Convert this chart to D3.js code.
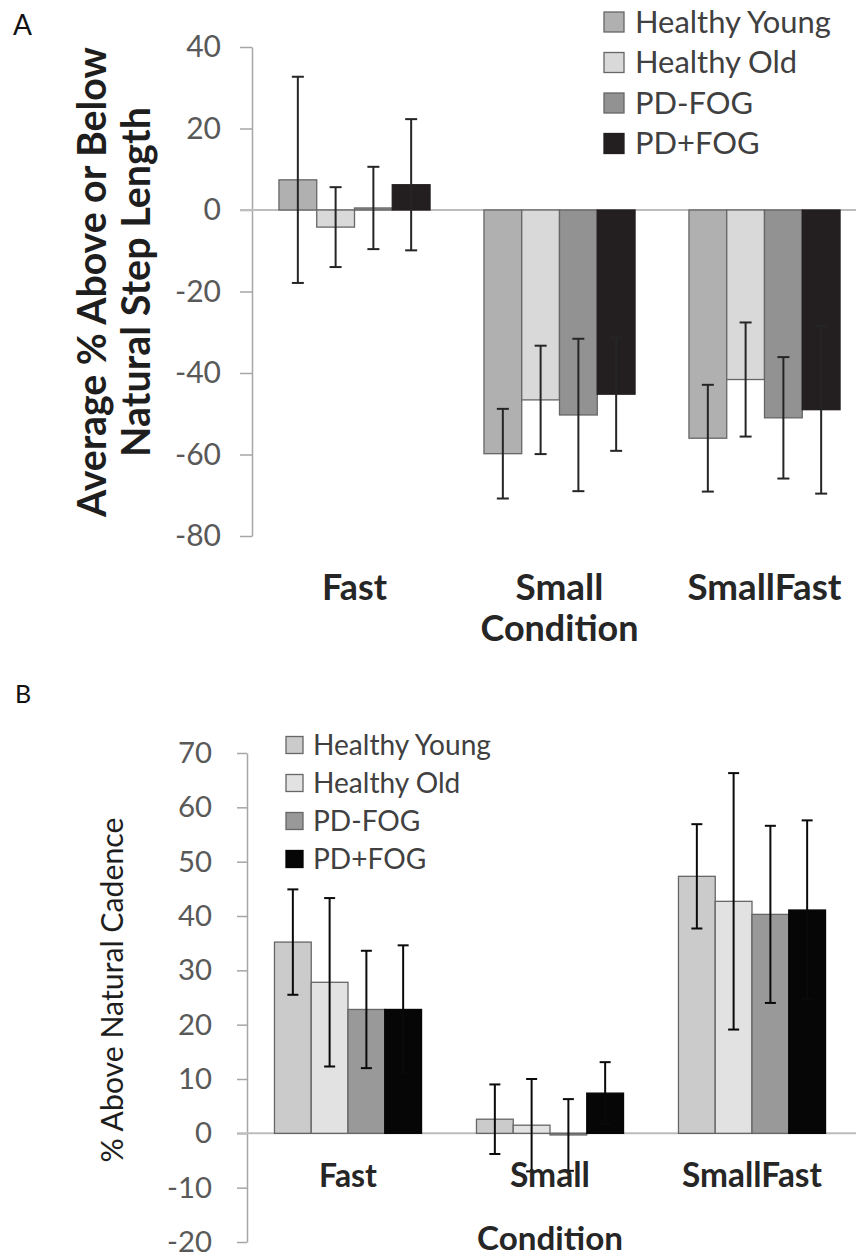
<!DOCTYPE html>
<html>
<head>
<meta charset="utf-8">
<script src="https://cdn.jsdelivr.net/npm/d3@7"></script>
<style>
body { margin: 0; background: #fff; }
svg { display: block; font-family: Lato, "Open Sans", sans-serif; }
</style>
</head>
<body>
<div id="figure"></div>
<script>
const groups = ["Healthy Young", "Healthy Old", "PD-FOG", "PD+FOG"]
const conditions = ["Fast", "Small", "SmallFast"]

// panel A - step length: mean / sd, one row per condition, one column per group
const stepMean = [
    [7.4, -4.2, 0.5, 6.2],
    [-59.8, -46.6, -50.3, -45.2],
    [-56.0, -41.6, -51.0, -49.0]
]
const stepSd = [
    [25.3, 9.8, 10.1, 16.1],
    [11.0, 13.3, 18.7, 13.9],
    [13.1, 14.0, 14.9, 20.6]
]
const stepTicks = [40, 20, 0, -20, -40, -60, -80]

// panel B - cadence
const cadMean = [
    [35.2, 27.8, 22.8, 22.8],
    [2.6, 1.5, -0.3, 7.4],
    [47.3, 42.7, 40.3, 41.1]
]
const cadSd = [
    [9.7, 15.5, 10.8, 11.8],
    [6.4, 8.5, 6.6, 5.7],
    [9.6, 23.6, 16.3, 16.5]
]
const cadTicks = [70, 60, 50, 40, 30, 20, 10, 0, -10, -20]

const colorsA = ["#b0b0b0", "#d9d9d9", "#929292", "#231f20"]
const colorsB = ["#cbcbcb", "#e2e2e2", "#999999", "#060606"]

const svg = d3.select("#figure")
    .append("svg")
    .attr("width", 856)
    .attr("height", 1258)

svg.append("rect").attr("width", 856).attr("height", 1258).attr("fill", "#fff")

// shrink / grow a text so that it covers a given length
const fit = (sel, len) => {
    const w = sel.node().getComputedTextLength()
    const fs = parseFloat(sel.attr("font-size"))
    sel.attr("font-size", fs * len / w)
    return fs * len / w
}

const drawPanel = (p) => {
    const g = svg.append("g")

    const y = d3.scaleLinear().domain(p.yDomain).range(p.yRange)
    const x = d3.scaleBand().domain(conditions).range(p.xRange)
        .paddingInner(p.pad).paddingOuter(p.pad / 2)
    const xs = d3.scaleBand().domain(groups).range([0, x.bandwidth()])

    // axis
    const axis = g.append("g")
        .attr("transform", `translate(${p.xRange[0]},0)`)
        .call(d3.axisLeft(y).tickValues(p.ticks).tickSize(p.tickLen)
            .tickSizeOuter(0).tickPadding(p.tickPad).tickFormat((d) => String(d)))
    axis.select(".domain").attr("stroke", "#a6a6a6").attr("stroke-width", 1.5)
    axis.selectAll(".tick line").attr("stroke", "#a6a6a6").attr("stroke-width", 1.5)
    axis.selectAll(".tick text")
        .attr("fill", "#595959")
        .attr("font-family", "Lato, 'Open Sans', sans-serif")
        .attr("font-size", 20)
    // size tick labels from the widest one
    const widest = axis.selectAll(".tick text").filter((d) => d == p.yDomain[0])
    const fs = fit(widest, p.tickW)
    axis.selectAll(".tick text").attr("font-size", fs)

    // zero line
    g.append("line")
        .attr("x1", p.xRange[0] - p.tickLen)
        .attr("x2", 856)
        .attr("y1", y(0))
        .attr("y2", y(0))
        .attr("stroke", "#bdbdbd")
        .attr("stroke-width", 2)

    const cells = []
    conditions.forEach((c, i) => groups.forEach((gr, j) => {
        cells.push({ c: c, g: gr, j: j, m: p.mean[i][j], sd: p.sd[i][j] })
    }))

    g.selectAll(".bar")
        .data(cells)
        .enter()
        .append("rect")
        .attr("class", "bar")
        .attr("x", (d) => x(d.c) + xs(d.g))
        .attr("width", xs.bandwidth())
        .attr("y", (d) => y(Math.max(0, d.m)))
        .attr("height", (d) => Math.abs(y(d.m) - y(0)))
        .attr("fill", (d) => p.colors[d.j])
        .attr("stroke", (d) => d.j == 3 ? p.colors[3] : "#666")
        .attr("stroke-width", 1.3)

    const err = g.selectAll(".err")
        .data(cells)
        .enter()
        .append("g")
        .attr("class", "err")
        .attr("transform", (d) => `translate(${x(d.c) + xs(d.g) + xs.bandwidth() / 2},0)`)
        .attr("stroke", p.errColor)
        .attr("stroke-width", 2)
    err.append("line")
        .attr("y1", (d) => y(d.m + d.sd))
        .attr("y2", (d) => y(d.m - d.sd))
    err.append("line")
        .attr("x1", -p.cap).attr("x2", p.cap)
        .attr("y1", (d) => y(d.m + d.sd)).attr("y2", (d) => y(d.m + d.sd))
    err.append("line")
        .attr("x1", -p.cap).attr("x2", p.cap)
        .attr("y1", (d) => y(d.m - d.sd)).attr("y2", (d) => y(d.m - d.sd))

    // category labels
    conditions.forEach((c, i) => {
        const t = g.append("text")
            .attr("x", x(c) + x.bandwidth() / 2)
            .attr("y", p.catY)
            .attr("text-anchor", "middle")
            .attr("font-weight", "bold")
            .attr("font-size", 24)
            .attr("fill", "#262626")
            .text(c)
        fit(t, p.catW[i])
    })
    const ct = g.append("text")
        .attr("x", x("Small") + x.bandwidth() / 2)
        .attr("y", p.condY)
        .attr("text-anchor", "middle")
        .attr("font-weight", "bold")
        .attr("font-size", 24)
        .attr("fill", "#262626")
        .text("Condition")
    fit(ct, p.condW)

    // y title
    p.title.forEach((t, i) => {
        const tt = g.append("text")
            .attr("transform", `translate(${p.titleX[i]},${p.titleY}) rotate(-90)`)
            .attr("text-anchor", "middle")
            .attr("font-weight", p.titleWeight)
            .attr("font-size", 24)
            .attr("fill", "#1e1e1e")
            .text(t)
        fit(tt, p.titleW[i])
    })

    // legend
    const lg = g.append("g")
    groups.forEach((gr, j) => {
        const cy = p.legY + j * p.legStep
        lg.append("rect")
            .attr("x", p.legX)
            .attr("y", cy - p.legBox / 2)
            .attr("width", p.legBox)
            .attr("height", p.legBox)
            .attr("fill", p.colors[j])
            .attr("stroke", j == 3 ? p.colors[3] : "#666")
            .attr("stroke-width", 1.3)
        const t = lg.append("text")
            .attr("x", p.legX + p.legBox + p.legGap)
            .attr("y", cy)
            .attr("dy", "0.35em")
            .attr("font-size", 20)
            .attr("fill", "#404040")
            .text(gr)
        if (j == 0) p.legFs = fit(t, p.legW)
        else t.attr("font-size", p.legFs)
    })

    // panel letter
    g.append("text")
        .attr("x", p.letterX)
        .attr("y", p.letterY)
        .attr("font-size", p.letterFs)
        .attr("fill", "#111")
        .text(p.letter)
}

drawPanel({
    mean: stepMean, sd: stepSd, ticks: stepTicks, colors: colorsA, errColor: "#252525",
    yDomain: [-80, 40], yRange: [536, 47], xRange: [252, 867], pad: 0.263,
    tickLen: 12, tickPad: 19, tickW: 46, cap: 6,
    catY: 600, catW: [65, 88, 154], condY: 641, condW: 158,
    title: ["Average % Above or Below", "Natural Step Length"],
    titleX: [106, 150], titleY: 282, titleW: [470, 350], titleWeight: "bold",
    legX: 604, legY: 22, legStep: 40.5, legBox: 20, legGap: 11, legW: 196,
    letter: "A", letterX: 13, letterY: 35, letterFs: 28
})

drawPanel({
    mean: cadMean, sd: cadSd, ticks: cadTicks, colors: colorsB, errColor: "#0a0a0a",
    yDomain: [-20, 70], yRange: [1242, 753], xRange: [247, 853], pad: 0.272,
    tickLen: 10, tickPad: 25, tickW: 45, cap: 5.5,
    catY: 1187, catW: [58, 80, 140], condY: 1250, condW: 146,
    title: ["% Above Natural Cadence"],
    titleX: [123], titleY: 990, titleW: [345], titleWeight: "normal",
    legX: 286, legY: 745, legStep: 38, legBox: 17, legGap: 10, legW: 178,
    letter: "B", letterX: 15, letterY: 703, letterFs: 25
})
</script>
</body>
</html>
